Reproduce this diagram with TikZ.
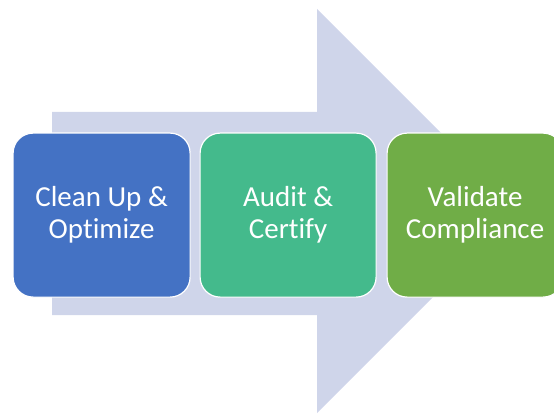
\documentclass[tikz,border=0pt]{standalone}
\usepackage{fontspec}
\setmainfont{Carlito}[Ligatures={NoCommon}]
\definecolor{arrowc}{HTML}{CFD5EA}
\definecolor{bluec}{HTML}{4472C4}
\definecolor{greenc}{HTML}{44BA8C}
\definecolor{olivec}{HTML}{70AD47}
\tikzset{
  stepbox/.style={draw=white, line width=1.2pt, rounded corners=20pt, anchor=north west,
    text=white, align=center, font=\fontsize{29}{32}\selectfont, inner sep=0pt},
}
\begin{document}
\begin{tikzpicture}[x=1pt,y=-1pt]
\useasboundingbox (0,0) rectangle (554,414);
\clip (0,0) rectangle (554,414);
\fill[arrowc] (52,112) -- (317,112) -- (317,9) -- (519,211) -- (317,413) -- (317,315) -- (52,315) -- cycle;
\node[stepbox, fill=bluec, minimum width=177pt, minimum height=164pt] (b1) at (12.5,132.5) {Clean Up \&\\Optimize};
\node[stepbox, fill=greenc, minimum width=176pt, minimum height=164pt] (b2) at (199.5,132.5) {Audit \&\\Certify};
\node[stepbox, fill=olivec, minimum width=176pt, minimum height=164pt] (b3) at (386.5,132.5) {Validate\\Compliance};
\end{tikzpicture}
\end{document}
